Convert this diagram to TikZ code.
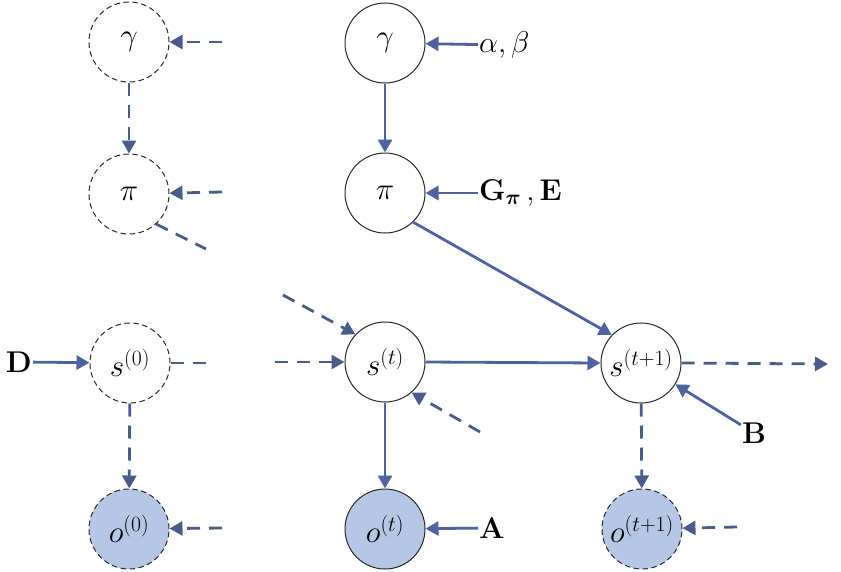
\documentclass[tikz,border=0pt]{standalone}
\usepackage{amsmath}
\usepackage{fix-cm}
\usetikzlibrary{arrows.meta}
\definecolor{arrowc}{RGB}{79,99,162}
\definecolor{dashc}{RGB}{74,92,140}
\definecolor{obsfill}{RGB}{182,199,230}
\definecolor{rimc}{RGB}{40,40,40}
\begin{document}
\begin{tikzpicture}[x=1pt,y=-1pt,
  var/.style={circle,draw=rimc,line width=1pt,minimum size=80pt,inner sep=0pt,font=\fontsize{31}{35}\selectfont},
  ghost/.style={var,dash pattern=on 5.5pt off 3.5pt},
  obs/.style={fill=obsfill},
  arr/.style={draw=arrowc,line width=2.8pt,-{Triangle[length=13pt,width=14pt]}},
  darr/.style={arr,draw=dashc,dash pattern=on 13pt off 9pt},
  dline/.style={draw=dashc,line width=2.8pt,dash pattern=on 13pt off 9pt},
  lab/.style={font=\fontsize{30}{34}\selectfont,inner sep=1pt}
]
\useasboundingbox (0,0) rectangle (841,571);
% nodes
\node[ghost] (g0) at (129,42) {$\gamma$};
\node[ghost] (p0) at (129,194) {$\pi$};
\node[var] (g) at (385,43) {$\gamma$};
\node[var] (p) at (385,193) {$\pi$};
\node[ghost] (s0) at (130,363) {$s^{(0)}$};
\node[var] (st) at (385,362) {$s^{(t)}$};
\node[var] (st1) at (641,363) {$s^{(t+1)}$};
\node[ghost,obs] (o0) at (129,529) {$o^{(0)}$};
\node[var,obs] (ot) at (385,529) {$o^{(t)}$};
\node[ghost,obs] (ot1) at (642,529) {$o^{(t+1)}$};
% labels
\node[lab,anchor=west] (ab) at (478,45) {$\alpha,\beta$};
\node[lab,anchor=west] (ge) at (478,193) {$\mathbf{G}_{\boldsymbol{\pi}}\,, \mathbf{E}$};
\node[lab,anchor=west] (A) at (478,528) {$\mathbf{A}$};
\node[lab] (B) at (754,433) {$\mathbf{B}$};
\node[lab,anchor=east] (D) at (33,362) {$\mathbf{D}$};
% free ends
\coordinate (g0in) at (222,42);
\coordinate (p0in) at (222,192);
\coordinate (p0out) at (206,249);
\coordinate (s0out) at (212,363);
\coordinate (stin) at (275,362);
\coordinate (stul) at (283,295);
\coordinate (stlr) at (480,432);
\coordinate (st1out) at (828,364);
\coordinate (o0in) at (222,528);
\coordinate (ot1in) at (737,527);
% solid connectors
\draw[arr] (ab) -- (g);
\draw[arr] (ge) -- (p);
\draw[arr] (g) -- (p);
\draw[arr] (p.-46) -- (st1.136);
\draw[arr] (st.east) -- (st1.west);
\draw[arr] (st) -- (ot);
\draw[arr] (A) -- (ot);
\draw[arr] (B) -- (st1);
\draw[arr] (D) -- (s0);
% dashed connectors
\draw[darr] (g0in) -- (g0);
\draw[darr] (p0in) -- (p0);
\draw[darr] (g0) -- (p0);
\draw[dline] (p0.-48) -- (p0out);
\draw[dline] (s0.east) -- (s0out);
\draw[darr] (s0) -- (o0);
\draw[darr] (o0in) -- (o0);
\draw[darr] (stin) -- (st.west);
\draw[darr] (stul) -- (st.137);
\draw[darr] (stlr) -- (st.-49);
\draw[darr] (st1.east) -- (st1out);
\draw[darr] (st1) -- (ot1);
\draw[darr] (ot1in) -- (ot1);
\end{tikzpicture}
\end{document}
